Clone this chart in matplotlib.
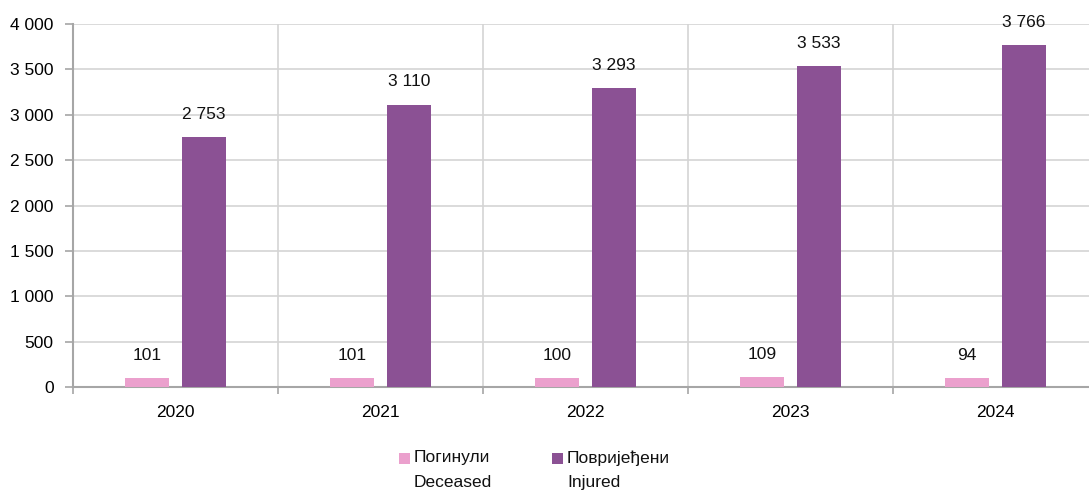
import matplotlib
matplotlib.use("Agg")
import matplotlib.pyplot as plt
from matplotlib.patches import Rectangle
import numpy as np

years = ["2020", "2021", "2022", "2023", "2024"]
deceased = [101, 101, 100, 109, 94]
injured = [2753, 3110, 3293, 3533, 3766]
series_labels = ["Погинули\nDeceased", "Повријеђени\nInjured"]
y_ticks = [0, 500, 1000, 1500, 2000, 2500, 3000, 3500, 4000]

pink = "#EBA0CD"
purple = "#8B5194"
grid_c = "#D4D4D4"
axis_c = "#A6A6A6"

plt.rcParams['font.family'] = ['Liberation Sans', 'DejaVu Sans']
FS = 12.5

W, H = 1089, 491
fig = plt.figure(figsize=(W / 100, H / 100), dpi=100)
ax = fig.add_axes([73 / W, 1 - 387 / H, 1025 / W, 363 / H])

x = np.arange(len(years))
bw = 0.212
off = 0.138
b1 = ax.bar(x - off, deceased, bw, color=pink, zorder=3)
b2 = ax.bar(x + off, injured, bw, color=purple, zorder=3)

def fmt(v):
    return f"{v:,}".replace(",", " ")

for bars, vals in ((b1, deceased), (b2, injured)):
    for r, v in zip(bars, vals):
        ax.annotate(fmt(v), (r.get_x() + r.get_width() / 2, v),
                    xytext=(0, 11), textcoords="offset points",
                    ha="center", va="bottom", fontsize=FS, color="#111111")

ax.set_xlim(-0.5, len(years) - 0.5)
ax.set_ylim(0, 4000)
ax.set_yticks(y_ticks)
ax.set_yticklabels([fmt(v) for v in y_ticks], fontsize=FS)
ax.set_xticks(x)
ax.set_xticklabels(years, fontsize=FS)
ax.set_xticks(np.arange(-0.5, len(years)), minor=True)
ax.tick_params(axis="x", which="major", length=0, pad=13)
ax.tick_params(axis="x", which="minor", length=5, color=axis_c, width=1.2)
ax.tick_params(axis="y", length=6, color=axis_c, width=1.2, pad=8)
ax.grid(axis="y", which="major", color=grid_c, linewidth=1.2, zorder=0)
ax.grid(axis="x", which="minor", color=grid_c, linewidth=1.2, zorder=0)
for s in ("top", "right"):
    ax.spines[s].set_visible(False)
for s in ("left", "bottom"):
    ax.spines[s].set_color(axis_c)
    ax.spines[s].set_linewidth(1.5)
ax.set_axisbelow(True)

# legend (manual)
leg_items = [(399, pink, series_labels[0]), (552, purple, series_labels[1])]
for px, col, lab in leg_items:
    fig.patches.append(Rectangle((px / W, 1 - 464 / H), 11 / W, 11 / H,
                                 transform=fig.transFigure, facecolor=col,
                                 edgecolor="none"))
    fig.text((px + 15) / W, 1 - 450 / H, lab, fontsize=FS, va="top",
             ha="left", linespacing=1.8, color="#111111")

fig.savefig("out.png", dpi=100)
